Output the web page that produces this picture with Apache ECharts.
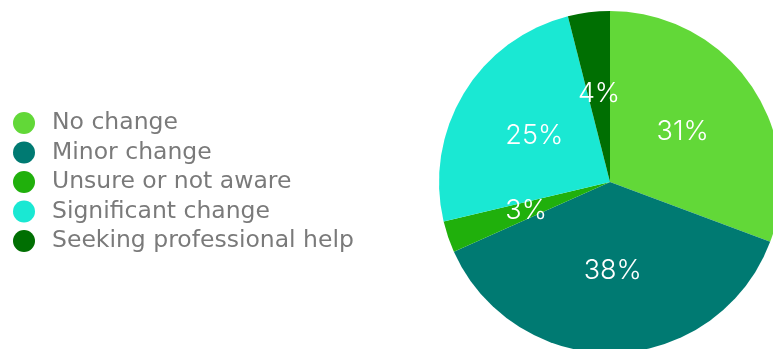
<!DOCTYPE html>
<html>
<head>
<meta charset="utf-8">
<script src="https://cdn.jsdelivr.net/npm/echarts@6/dist/echarts.min.js"></script>
<style>
  html, body { margin: 0; padding: 0; background: #ffffff; }
  #chart { width: 773px; height: 349px; }
</style>
</head>
<body>
<div id="chart"></div>
<script>
// Survey responses: how behaviour changed
const categories = ['No change', 'Minor change', 'Unsure or not aware', 'Significant change', 'Seeking professional help'];
const shares = [31, 38, 3, 25, 4];
const colors = ['#62d838', '#007a72', '#20b00c', '#1ae8d3', '#006f02'];

const chart = echarts.init(document.getElementById('chart'), null, { renderer: 'canvas' });

chart.setOption({
  animation: false,
  color: colors,
  legend: {
    orient: 'vertical',
    left: 13,
    top: 111,
    padding: 0,
    icon: 'circle',
    itemWidth: 22,
    itemHeight: 22,
    itemGap: 5.5,
    data: categories,
    textStyle: {
      fontFamily: 'DejaVu Sans',
      fontWeight: 'normal',
      fontSize: 23.5,
      lineHeight: 23,
      color: '#7a7a7a',
      padding: [0, 0, 0, 12]
    }
  },
  series: [{
    type: 'pie',
    center: [610, 182],
    radius: [0, 171],
    startAngle: 90,
    clockwise: true,
    label: {
      show: true,
      position: 'inside',
      formatter: '{c}%',
      color: '#ffffff',
      fontFamily: 'Inter',
      fontWeight: 300,
      fontSize: 27
    },
    labelLine: { show: false },
    itemStyle: { borderWidth: 0 },
    emphasis: { disabled: true },
    data: categories.map((name, i) => ({ name, value: shares[i] }))
  }]
});
</script>
</body>
</html>
